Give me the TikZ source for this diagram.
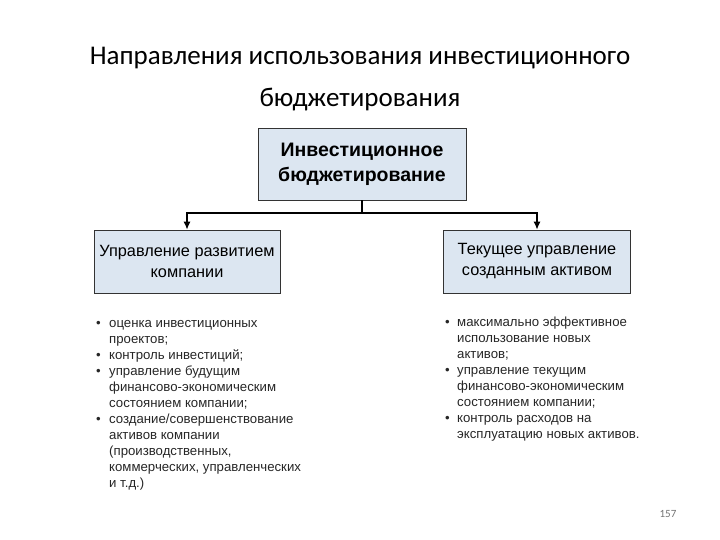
\documentclass[tikz,border=0pt]{standalone}
\usepackage{fontspec}
\usetikzlibrary{arrows.meta}
\setmainfont{Liberation Sans}
\newfontfamily\calib{Carlito}
\begin{document}
\begin{tikzpicture}[x=1pt,y=-1pt,
  box/.style={draw=black!80,line width=0.8pt,fill={rgb,255:red,220;green,230;blue,241},inner sep=0pt,align=center},
  lst/.style={anchor=north west,inner sep=0pt,font=\fontsize{13.2}{16}\selectfont,text=black!85},
  arr/.style={line width=1.2pt,-{Latex[length=8pt,width=7pt]}}]
\useasboundingbox (0,0) rectangle (720,540);
\node[font=\calib\fontsize{27}{30}\selectfont] (t1) at (360,58) {Направления использования инвестиционного};
\node[font=\calib\fontsize{27}{30}\selectfont] (t2) at (360,100) {бюджетирования};
\node[box,minimum width=208,minimum height=72,font=\bfseries\fontsize{19.5}{25}\selectfont] (top) at (362,164) {Инвестиционное\\бюджетирование};
\node[box,minimum width=186,minimum height=63,font=\fontsize{16.3}{21}\selectfont] (l) at (187,261.5) {Управление развитием\\компании};
\node[box,minimum width=187,minimum height=63,font=\fontsize{16.3}{21}\selectfont] (r) at (537,261.5) {Текущее управление\\созданным активом};
\coordinate (j) at (362,213);
\draw[line width=1.2pt] (top.south) -- (j);
\draw[arr] (j) -| (l.north);
\draw[arr] (j) -| (r.north);
\node[lst] (ll) at (96,316) {\begin{tabular}{@{}p{13pt}@{}l@{}}
\textbullet & оценка инвестиционных\\
 & проектов;\\
\textbullet & контроль инвестиций;\\
\textbullet & управление будущим\\
 & финансово-экономическим\\
 & состоянием компании;\\
\textbullet & создание/совершенствование\\
 & активов компании\\
 & (производственных,\\
 & коммерческих, управленческих\\
 & и т.д.)
\end{tabular}};
\node[lst] (rl) at (445,315) {\begin{tabular}{@{}p{12pt}@{}l@{}}
\textbullet & максимально эффективное\\
 & использование новых\\
 & активов;\\
\textbullet & управление текущим\\
 & финансово-экономическим\\
 & состоянием компании;\\
\textbullet & контроль расходов на\\
 & эксплуатацию новых активов.
\end{tabular}};
\node[font=\calib\fontsize{11}{13}\selectfont,text=black!55] (pg) at (668,514) {157};
\end{tikzpicture}
\end{document}
